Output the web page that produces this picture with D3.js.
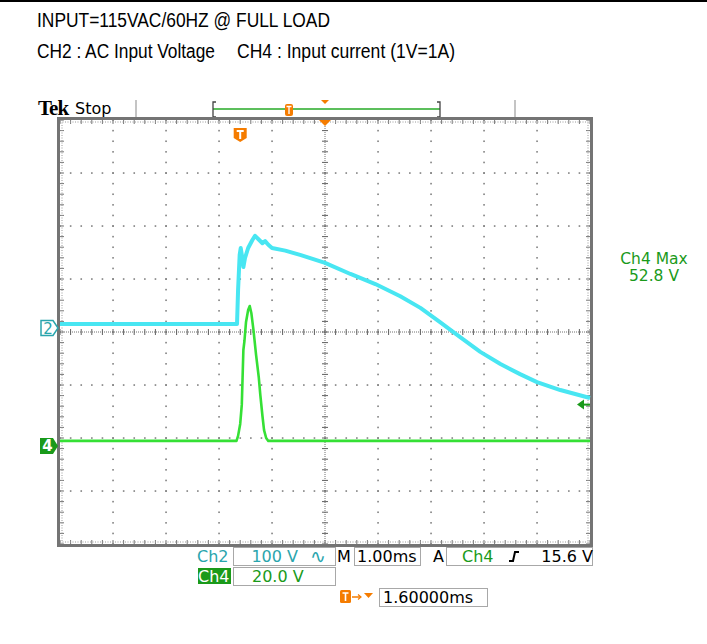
<!DOCTYPE html>
<html>
<head>
<meta charset="utf-8">
<script src="https://cdn.jsdelivr.net/npm/d3@7"></script>
<style>
  html, body { margin: 0; padding: 0; background: #fff; }
  svg { display: block; }
</style>
</head>
<body>
<svg id="scope" width="707" height="644"></svg>
<script>
// ---- Captured waveform data ----
// Ch2: AC input voltage (time in ms relative to trigger, volts)
const ch2Time  = [-3.40, -0.06, -0.04, -0.01, 0.01, 0.04, 0.06, 0.09, 0.15, 0.23, 0.28, 0.34, 0.42, 0.47, 0.53, 0.60, 0.85, 1.13, 1.60, 2.08, 2.55, 3.02, 3.40, 3.77, 4.15, 4.53, 4.91, 5.28, 5.60, 6.04, 6.60];
const ch2Volts = [7.5, 7.5, 72, 138, 151, 132, 115, 132, 151, 166, 174, 168, 160, 164, 157, 151, 146, 138, 123, 102, 83, 60, 38, 11, -17, -45, -68, -87, -102, -117, -132];

// Ch4: input current probe (1V = 1A), volts
const ch4Time  = [-3.40, -0.07, -0.04, 0.00, 0.03, 0.06, 0.08, 0.11, 0.15, 0.18, 0.21, 0.25, 0.30, 0.35, 0.38, 0.42, 0.45, 0.49, 0.53, 6.60];
const ch4Volts = [1.9, 1.9, 3.8, 8.3, 15.5, 36.2, 39.6, 46.8, 51.3, 52.8, 50.2, 43.8, 34.3, 26.0, 19.2, 11.3, 6.0, 3.0, 1.9, 1.9];

// Instrument settings
const ch2VoltsPerDiv = 100;
const ch4VoltsPerDiv = 20;
const msPerDiv = 1.0;
const triggerDelayMs = 1.6;
const triggerLevel = 15.6;
const ch2Offset = 0.075;   // ground marker position, divisions
const ch4Offset = -2.15;

// Text content
const titleLines = ["INPUT=115VAC/60HZ @ FULL LOAD"];
const channelNotes = ["CH2 : AC Input Voltage", "CH4 : Input current (1V=1A)"];
const measLabels = ["Ch4 Max", "52.8 V"];

// ---- Colours ----
const CYAN = "#48e6f2";
const GREEN = "#35e035";
const TEAL = "#2aa5ad";
const DKGREEN = "#1a9a1a";
const ORANGE = "#f57c00";
const monoFont = "'DejaVu Sans', sans-serif";

const svg = d3.select("#scope");

// top rule
svg.append("rect").attr("x", 0).attr("y", 0).attr("width", 707).attr("height", 2).attr("fill", "#000");

// header text
const narrow = "'Liberation Sans Narrow', 'Liberation Sans', Arial, sans-serif";
svg.append("text").attr("x", 37).attr("y", 27).attr("font-family", narrow).attr("font-size", 20)
  .attr("textLength", 293).attr("lengthAdjust", "spacingAndGlyphs").text(titleLines[0]);
svg.append("text").attr("x", 37).attr("y", 58).attr("font-family", narrow).attr("font-size", 20)
  .attr("textLength", 178).attr("lengthAdjust", "spacingAndGlyphs").text(channelNotes[0]);
svg.append("text").attr("x", 237).attr("y", 58).attr("font-family", narrow).attr("font-size", 20)
  .attr("textLength", 218).attr("lengthAdjust", "spacingAndGlyphs").text(channelNotes[1]);

// ---- Graticule scales ----
const X0 = 60, X1 = 590, Y0 = 120, Y1 = 544;
const xDiv = d3.scaleLinear().domain([-5, 5]).range([X0, X1]);
const yDiv = d3.scaleLinear().domain([-4, 4]).range([Y1, Y0]);
const xTime = t => xDiv(t / msPerDiv - triggerDelayMs / msPerDiv);
const yCh2 = v => yDiv(v / ch2VoltsPerDiv + ch2Offset);
const yCh4 = v => yDiv(v / ch4VoltsPerDiv + ch4Offset);

// status bar
svg.append("text").attr("x", 38).attr("y", 115).attr("font-family", "'Liberation Serif', 'DejaVu Serif', serif")
  .attr("font-weight", "bold").attr("font-size", 21).attr("letter-spacing", -1).text("Tek");
svg.append("text").attr("x", 75).attr("y", 114).attr("font-family", monoFont).attr("font-size", 16).text("Stop");
[136, 515].forEach(x => svg.append("line").attr("x1", x).attr("x2", x).attr("y1", 100).attr("y2", 118)
  .attr("stroke", "#c4c4c4").attr("stroke-width", 2));

// record-length bar
const barL = 213, barR = 440, barY = 109;
svg.append("line").attr("x1", barL).attr("x2", barR).attr("y1", barY).attr("y2", barY).attr("stroke", "#5cbf5c").attr("stroke-width", 2);
svg.append("path").attr("d", `M${barL + 3},102 H${barL} V117 H${barL + 3}`).attr("fill", "none").attr("stroke", "#444").attr("stroke-width", 1.3);
svg.append("path").attr("d", `M${barR - 3},102 H${barR} V117 H${barR - 3}`).attr("fill", "none").attr("stroke", "#444").attr("stroke-width", 1.3);
svg.append("rect").attr("x", 285).attr("y", 104).attr("width", 8).attr("height", 12).attr("rx", 2).attr("fill", ORANGE);
svg.append("path").attr("d", "M286.5,106.5 H291.5 M289,106.5 V114").attr("stroke", "#fff").attr("stroke-width", 1.3);
svg.append("path").attr("d", "M321,100 L329,100 L325,104 Z").attr("fill", ORANGE);

// ---- Graticule ----
const g = svg.append("g");
const minor = d3.range(0, 50.001, 1).map(i => -5 + i / 5);
const minorY = d3.range(0, 40.001, 1).map(i => -4 + i / 5);
const majorX = d3.range(-4, 5, 1);
const majorY = d3.range(-3, 4, 1);
const dotColor = "#808080";

// dotted major lines
majorX.forEach(dx => {
  if (dx === 0) return;
  minorY.forEach(dy => g.append("rect").attr("x", xDiv(dx) - 0.75).attr("y", yDiv(dy) - 0.75)
    .attr("width", 1.6).attr("height", 1.6).attr("fill", dotColor));
});
majorY.forEach(dy => {
  if (dy === 0) return;
  minor.forEach(dx => g.append("rect").attr("x", xDiv(dx) - 0.75).attr("y", yDiv(dy) - 0.75)
    .attr("width", 1.6).attr("height", 1.6).attr("fill", dotColor));
});

// centre crosshair
g.append("line").attr("x1", X0).attr("x2", X1).attr("y1", yDiv(0)).attr("y2", yDiv(0))
  .attr("stroke", "#707070").attr("stroke-width", 1).attr("stroke-dasharray", "1,1");
g.append("line").attr("x1", xDiv(0)).attr("x2", xDiv(0)).attr("y1", Y0).attr("y2", Y1)
  .attr("stroke", "#707070").attr("stroke-width", 1).attr("stroke-dasharray", "1,1");
minor.forEach(dx => g.append("line").attr("x1", xDiv(dx)).attr("x2", xDiv(dx))
  .attr("y1", yDiv(0) - 3).attr("y2", yDiv(0) + 3).attr("stroke", "#606060").attr("stroke-width", 1));
minorY.forEach(dy => g.append("line").attr("x1", xDiv(0) - 3).attr("x2", xDiv(0) + 3)
  .attr("y1", yDiv(dy)).attr("y2", yDiv(dy)).attr("stroke", "#606060").attr("stroke-width", 1));

// edge ticks
minor.forEach(dx => {
  g.append("line").attr("x1", xDiv(dx)).attr("x2", xDiv(dx)).attr("y1", Y0).attr("y2", Y0 + 4).attr("stroke", "#777");
  g.append("line").attr("x1", xDiv(dx)).attr("x2", xDiv(dx)).attr("y1", Y1 - 4).attr("y2", Y1).attr("stroke", "#777");
});
minorY.forEach(dy => {
  g.append("line").attr("x1", X0).attr("x2", X0 + 4).attr("y1", yDiv(dy)).attr("y2", yDiv(dy)).attr("stroke", "#777");
  g.append("line").attr("x1", X1 - 4).attr("x2", X1).attr("y1", yDiv(dy)).attr("y2", yDiv(dy)).attr("stroke", "#777");
});
[[X0, Y0 + 2, X1, Y0 + 2], [X0, Y1 - 2, X1, Y1 - 2], [X0 + 2, Y0, X0 + 2, Y1], [X1 - 2, Y0, X1 - 2, Y1]].forEach(l =>
  g.append("line").attr("x1", l[0]).attr("y1", l[1]).attr("x2", l[2]).attr("y2", l[3])
    .attr("stroke", "#999").attr("stroke-dasharray", "1,1.5"));

// frame
svg.append("rect").attr("x", X0 - 1.5).attr("y", Y0 - 1.5).attr("width", X1 - X0 + 3).attr("height", Y1 - Y0 + 3)
  .attr("fill", "none").attr("stroke", "#747474").attr("stroke-width", 3);

// trigger position markers
const trigX = xTime(0);
svg.append("path").attr("d", `M${trigX - 6.5},128 H${trigX + 6.5} V138 L${trigX},142 L${trigX - 6.5},138 Z`).attr("fill", ORANGE);
svg.append("path").attr("d", `M${trigX - 3.5},131 H${trigX + 3.5} M${trigX},131 V139`).attr("stroke", "#fff").attr("stroke-width", 2);
svg.append("path").attr("d", `M${xDiv(0) - 6},${Y0} L${xDiv(0) + 6},${Y0} L${xDiv(0)},${Y0 + 6} Z`).attr("fill", ORANGE);

// ---- Traces ----
const line = d3.line().x(d => xTime(d[0]));
svg.append("path")
  .datum(d3.zip(ch2Time, ch2Volts))
  .attr("d", line.y(d => yCh2(d[1])))
  .attr("fill", "none").attr("stroke", CYAN).attr("stroke-width", 4).attr("stroke-linejoin", "round");
svg.append("path")
  .datum(d3.zip(ch4Time, ch4Volts))
  .attr("d", line.y(d => yCh4(d[1])))
  .attr("fill", "none").attr("stroke", GREEN).attr("stroke-width", 2.6).attr("stroke-linejoin", "round");

// channel ground markers
const m2 = yCh2(0), m4 = yCh4(0);
svg.append("path").attr("d", `M41,${m2 - 7.5} H53 L58,${m2} L53,${m2 + 7.5} H41 Z`)
  .attr("fill", "#fff").attr("stroke", TEAL).attr("stroke-width", 1.5);
svg.append("text").attr("x", 48).attr("y", m2 + 5.5).attr("text-anchor", "middle").attr("font-family", monoFont)
  .attr("font-size", 15).attr("fill", TEAL).text("2");
svg.append("path").attr("d", `M40,${m4 - 8} H53 L58,${m4} L53,${m4 + 8} H40 Z`).attr("fill", DKGREEN);
svg.append("text").attr("x", 47.5).attr("y", m4 + 5.5).attr("text-anchor", "middle").attr("font-family", monoFont)
  .attr("font-weight", "bold").attr("font-size", 15).attr("fill", "#fff").text("4");

// trigger level marker
const tl = yCh4(triggerLevel);
svg.append("path").attr("d", `M577,${tl} L584,${tl - 5} L584,${tl + 5} Z`).attr("fill", DKGREEN);
svg.append("line").attr("x1", 583).attr("x2", 590).attr("y1", tl).attr("y2", tl).attr("stroke", DKGREEN).attr("stroke-width", 2);

// measurement readout
svg.append("text").attr("x", 654).attr("y", 264).attr("text-anchor", "middle").attr("font-family", monoFont)
  .attr("font-size", 15.5).attr("fill", DKGREEN).text(measLabels[0]);
svg.append("text").attr("x", 654).attr("y", 281).attr("text-anchor", "middle").attr("font-family", monoFont)
  .attr("font-size", 15.5).attr("fill", DKGREEN).text(measLabels[1]);

// ---- Bottom settings readouts ----
const box = (x, y, w, h) => svg.append("rect").attr("x", x + 0.5).attr("y", y + 0.5).attr("width", w).attr("height", h)
  .attr("fill", "#fff").attr("stroke", "#a8a8a8").attr("stroke-width", 1);
const txt = (x, y, s, fill, anchor) => svg.append("text").attr("x", x).attr("y", y).attr("font-family", monoFont)
  .attr("font-size", 16).attr("fill", fill).attr("text-anchor", anchor || "start").text(s);

box(233, 547, 102, 18);
box(354, 547, 66, 18);
box(446, 547, 146, 18);
box(233, 567, 102, 18);
box(379, 588, 108, 18);

txt(197, 562, "Ch2", TEAL);
txt(298, 562, `${ch2VoltsPerDiv} V`, TEAL, "end");
svg.append("text").attr("x", 310).attr("y", 563).attr("font-family", monoFont).attr("font-size", 19).attr("fill", TEAL).text("∿");
txt(337, 562, "M", "#000");
txt(357, 562, `${msPerDiv.toFixed(2)}ms`, "#000");
txt(433, 562, "A", "#000");
txt(462, 562, "Ch4", DKGREEN);
svg.append("path").attr("d", "M509,561 L513,561 L515,552 L519,552").attr("fill", "none").attr("stroke", "#000").attr("stroke-width", 2);
txt(593, 562, `${triggerLevel} V`, "#000", "end");

svg.append("rect").attr("x", 198).attr("y", 568).attr("width", 33).attr("height", 16).attr("fill", DKGREEN);
txt(198, 582, "Ch4", "#fff");
txt(252, 582, `${ch4VoltsPerDiv.toFixed(1)} V`, DKGREEN);

svg.append("rect").attr("x", 340).attr("y", 590).attr("width", 11).attr("height", 13).attr("rx", 1.5).attr("fill", ORANGE);
svg.append("path").attr("d", "M342.5,593 H348.5 M345.5,593 V601").attr("stroke", "#fff").attr("stroke-width", 1.6);
svg.append("line").attr("x1", 352).attr("x2", 360).attr("y1", 597).attr("y2", 597).attr("stroke", ORANGE).attr("stroke-width", 1.5);
svg.append("path").attr("d", "M358,594.5 L361,597 L358,599.5").attr("fill", "none").attr("stroke", ORANGE).attr("stroke-width", 1.2);
svg.append("path").attr("d", "M364,593 L373,593 L368.5,598 Z").attr("fill", ORANGE);
txt(383, 603, `${triggerDelayMs.toFixed(5)}ms`, "#000");
</script>
</body>
</html>
